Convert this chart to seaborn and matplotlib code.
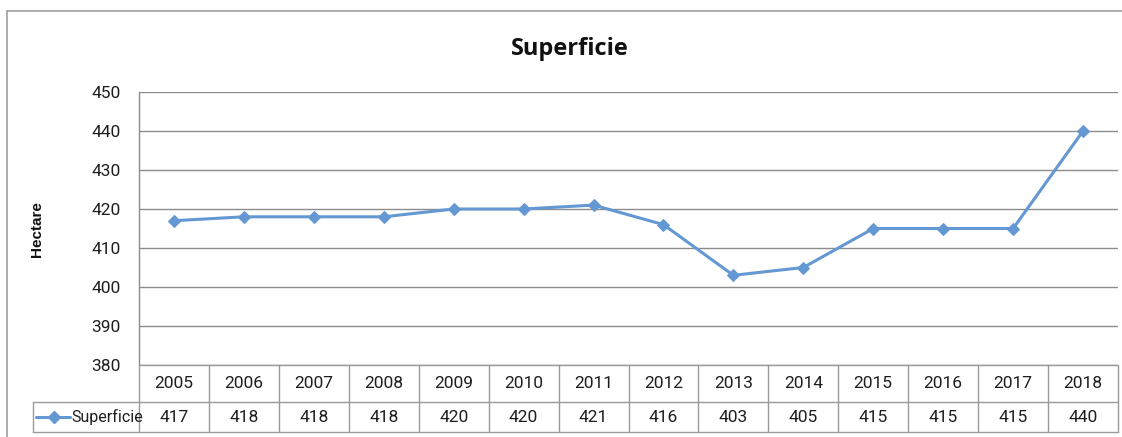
import matplotlib
matplotlib.use("Agg")
import matplotlib.pyplot as plt
from matplotlib.lines import Line2D
import seaborn as sns
import pandas as pd

# Data
years = ["2005", "2006", "2007", "2008", "2009", "2010", "2011",
         "2012", "2013", "2014", "2015", "2016", "2017", "2018"]
superficie = [417, 418, 418, 418, 420, 420, 421, 416, 403, 405, 415, 415, 415, 440]
y_ticks = [380, 390, 400, 410, 420, 430, 440, 450]
series_name = "Superficie"
title_text = "Superficie"
y_label = "Hectare"

sns.set_theme(style="white")
plt.rcParams["font.family"] = ["Roboto", "DejaVu Sans"]

W, H = 1122, 437
fig = plt.figure(figsize=(W / 100, H / 100), dpi=100)

def fx(px):
    return px / W

def fy(py):
    return 1 - py / H

left, right, top, bottom = 139, 1118, 92, 365
ax = fig.add_axes([fx(left), fy(bottom), fx(right) - fx(left), fy(top) - fy(bottom)])

line_color = "#6398D2"
grid_color = "#8C8C8C"
border_color = "#A0A0A0"
text_color = "#1E1E1E"

df = pd.DataFrame({"idx": range(len(years)), "value": superficie})
sns.lineplot(data=df, x="idx", y="value", ax=ax, color=line_color, linewidth=2.2,
             marker="D", markersize=6, markeredgecolor=line_color, legend=False)

ax.set_xlim(-0.5, len(years) - 0.5)
ax.set_ylim(380, 450)
ax.set_yticks(y_ticks)
ax.set_yticklabels([str(t) for t in y_ticks], fontsize=12.5, color=text_color)
ax.set_xticks([])
ax.set_xlabel("")
ax.set_ylabel("")
ax.tick_params(axis="y", length=0, pad=13)
for t in y_ticks:
    ax.axhline(t, color=grid_color, linewidth=1.0, zorder=0)
for s in ["top", "right", "bottom"]:
    ax.spines[s].set_visible(False)
ax.spines["left"].set_color(grid_color)
ax.spines["left"].set_linewidth(1.0)

fig.text(fx(570), fy(49), title_text, ha="center", va="center",
         fontsize=17, fontweight="bold", family="Open Sans", color="#111111")
fig.text(fx(37), fy(229), y_label, ha="center", va="center", rotation=90,
         fontsize=11, fontweight="bold", family="Liberation Sans", color="#111111")

# Outer chart border
fig.add_artist(Line2D([fx(7), fx(1122)], [fy(11), fy(11)], color=border_color, lw=1.2))
fig.add_artist(Line2D([fx(7), fx(7)], [fy(11), fy(437)], color=border_color, lw=1.2))

# Data table below the plot
row1_top, row1_bot, row2_bot = 365, 402, 432
col_w = (right - left) / len(years)
tab_color = "#9A9A9A"
fig.add_artist(Line2D([fx(left), fx(right)], [fy(row1_top), fy(row1_top)], color=tab_color, lw=1.0))
fig.add_artist(Line2D([fx(33), fx(right)], [fy(row1_bot), fy(row1_bot)], color=tab_color, lw=1.0))
fig.add_artist(Line2D([fx(33), fx(right)], [fy(row2_bot), fy(row2_bot)], color=tab_color, lw=1.0))
fig.add_artist(Line2D([fx(33), fx(33)], [fy(row1_bot), fy(row2_bot)], color=tab_color, lw=1.0))
for i in range(len(years) + 1):
    x = left + i * col_w
    fig.add_artist(Line2D([fx(x), fx(x)], [fy(row1_top), fy(row2_bot)], color=tab_color, lw=1.0))

for i, (yr, v) in enumerate(zip(years, superficie)):
    cx = left + (i + 0.5) * col_w
    fig.text(fx(cx), fy((row1_top + row1_bot) / 2), yr, ha="center", va="center",
             fontsize=12.5, color=text_color)
    fig.text(fx(cx), fy((row1_bot + row2_bot) / 2), str(v), ha="center", va="center",
             fontsize=12.5, color=text_color)

# Legend key in the table header cell
ky = fy((row1_bot + row2_bot) / 2)
fig.add_artist(Line2D([fx(36), fx(70)], [ky, ky], color=line_color, lw=2.2))
fig.add_artist(Line2D([fx(54)], [ky], color=line_color, marker="D", markersize=6,
                      markeredgecolor=line_color))
fig.text(fx(71), ky, series_name, ha="left", va="center", fontsize=11.5, color=text_color)

fig.savefig("out.png", dpi=100)
